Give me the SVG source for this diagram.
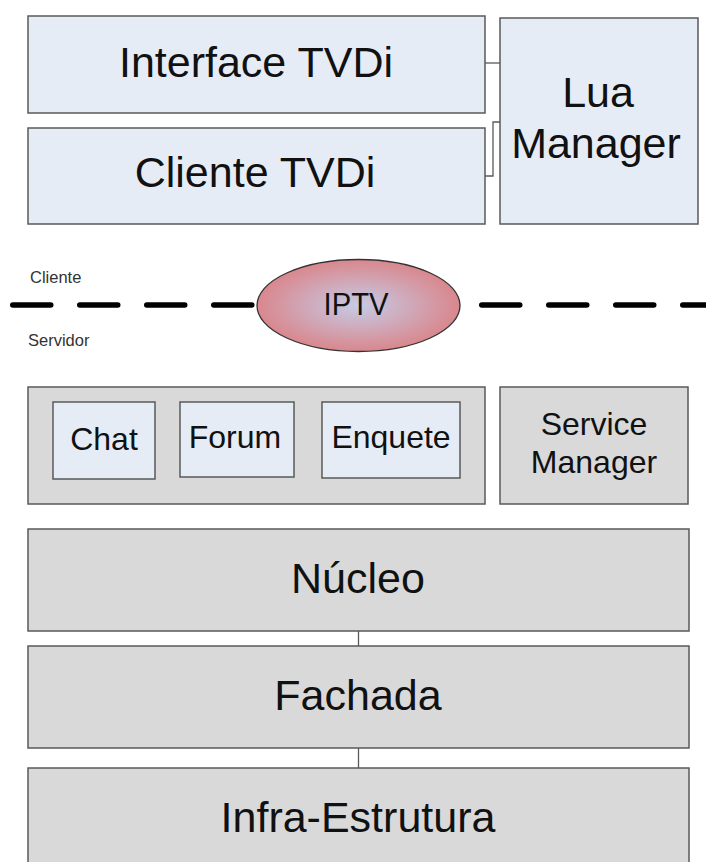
<svg xmlns="http://www.w3.org/2000/svg" width="706" height="862" viewBox="0 0 706 862">
  <style>
    .client { fill: #e6ecf6; stroke: #595959; stroke-width: 1.5; }
    .server { fill: #d9d9d9; stroke: #595959; stroke-width: 1.5; }
    .wire { fill: none; stroke: #595959; stroke-width: 1.3; }
    text { font-family: "Liberation Sans", Arial, sans-serif; fill: #111; text-anchor: middle; }
    .big { font-size: 43px; }
    .mid { font-size: 32px; }
    .small { font-size: 16.5px; text-anchor: start; fill: #333; }
  </style>
  <defs>
    <radialGradient id="iptvFill" cx="50%" cy="50%" r="50%">
      <stop offset="0" stop-color="#c6cbe6"/>
      <stop offset="1" stop-color="#d9878d"/>
    </radialGradient>
  </defs>
  <rect width="706" height="862" fill="#fff"/>

  <!-- connectors -->
  <g id="connectors">
    <path class="wire" d="M485 63 H500"/>
    <path class="wire" d="M485 176 H493 V122 H500"/>
    <path class="wire" d="M358.5 631 V646"/>
    <path class="wire" d="M358.5 748 V768"/>
  </g>

  <!-- client side -->
  <g id="interface-tvdi">
    <rect class="client" x="28" y="16" width="457" height="97"/>
    <text class="big" x="256" y="77">Interface TVDi</text>
  </g>
  <g id="cliente-tvdi">
    <rect class="client" x="28" y="128" width="457" height="96"/>
    <text class="big" x="255" y="187">Cliente TVDi</text>
  </g>
  <g id="lua-manager">
    <rect class="client" x="500" y="18" width="198" height="206"/>
    <text class="big" x="598" y="107">Lua</text>
    <text class="big" x="596" y="158">Manager</text>
  </g>

  <!-- client / server boundary -->
  <g id="boundary">
    <line x1="0" y1="305" x2="706" y2="305" stroke="#000" stroke-width="5.5" stroke-linecap="round" stroke-dasharray="38 29" stroke-dashoffset="54.25"/>
    <text class="small" x="30" y="283">Cliente</text>
    <text class="small" x="28" y="346">Servidor</text>
  </g>
  <g id="iptv">
    <ellipse cx="358.5" cy="305.5" rx="101.5" ry="46" fill="url(#iptvFill)" stroke="#333" stroke-width="1.3"/>
    <text class="mid" x="356" y="315" textLength="65" lengthAdjust="spacingAndGlyphs">IPTV</text>
  </g>

  <!-- server side -->
  <g id="services">
    <rect class="server" x="28" y="387" width="457" height="117"/>
  </g>
  <g id="chat">
    <rect class="client" x="53" y="402" width="102" height="77"/>
    <text class="mid" x="104" y="450">Chat</text>
  </g>
  <g id="forum">
    <rect class="client" x="180" y="402" width="114" height="75"/>
    <text class="mid" x="235" y="448">Forum</text>
  </g>
  <g id="enquete">
    <rect class="client" x="322" y="402" width="138" height="76"/>
    <text class="mid" x="391" y="448">Enquete</text>
  </g>
  <g id="service-manager">
    <rect class="server" x="500" y="387" width="188" height="117"/>
    <text class="mid" x="594" y="435">Service</text>
    <text class="mid" x="594" y="473">Manager</text>
  </g>
  <g id="nucleo">
    <rect class="server" x="28" y="529" width="661" height="102"/>
    <text class="big" x="358" y="593">Núcleo</text>
  </g>
  <g id="fachada">
    <rect class="server" x="28" y="646" width="661" height="102"/>
    <text class="big" x="358" y="710">Fachada</text>
  </g>
  <g id="infra-estrutura">
    <rect class="server" x="28" y="768" width="661" height="104"/>
    <text class="big" x="358" y="832">Infra-Estrutura</text>
  </g>
</svg>
